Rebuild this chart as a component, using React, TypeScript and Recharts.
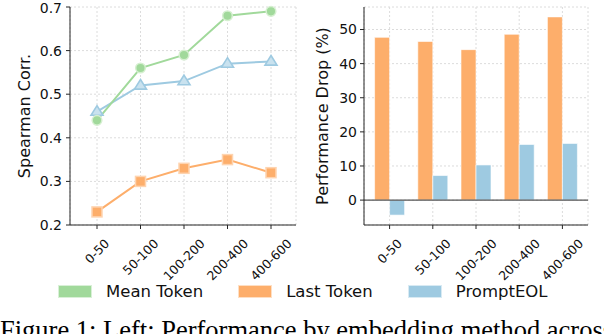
import { Bar, BarChart, CartesianGrid, Line, LineChart, ReferenceLine, XAxis, YAxis } from "recharts"

const ranges = ["0-50", "50-100", "100-200", "200-400", "400-600"]
const meanTokenCorr = [0.44, 0.56, 0.59, 0.68, 0.69]
const lastTokenCorr = [0.23, 0.3, 0.33, 0.35, 0.32]
const promptEolCorr = [0.46, 0.52, 0.53, 0.57, 0.575]
const lastTokenDrop = [47.7, 46.5, 44.1, 48.6, 53.7]
const promptEolDrop = [-4.4, 7.2, 10.3, 16.3, 16.6]
const corrTicks = [0.2, 0.3, 0.4, 0.5, 0.6, 0.7]
const dropTicks = [0, 10, 20, 30, 40, 50]
const seriesNames = ["Mean Token", "Last Token", "PromptEOL"]

const GREEN = "#a1d99b"
const ORANGE = "#fdae6b"
const BLUE = "#9ecae1"
const seriesColors = [GREEN, ORANGE, BLUE]
const FRAME = "#262626"
const GRID = "#dcdcdc"
const FONT = "DejaVu Sans, sans-serif"

const corrData = ranges.map((range, i) => ({
  range,
  mean: meanTokenCorr[i],
  last: lastTokenCorr[i],
  prompt: promptEolCorr[i],
}))

const dropData = ranges.map((range, i) => ({
  range,
  last: lastTokenDrop[i],
  prompt: promptEolDrop[i],
}))

const X_TICK_SIZE = 12.5

// rough DejaVu Sans advance widths, so the rotated label's box can be centred on its tick
function labelLength(s: string) {
  let em = 0
  for (const ch of s) em += ch === "-" ? 0.361 : 0.636
  return em * X_TICK_SIZE
}

function RotatedTick({ x, y, payload }: any) {
  const text = String(payload.value)
  const half = (labelLength(text) + 0.73 * X_TICK_SIZE) / (2 * Math.SQRT2)
  return (
    <g transform={`translate(${x},${y + 7 + half})`}>
      <text
        x={0}
        y={0.36 * X_TICK_SIZE}
        textAnchor="middle"
        transform="rotate(-45)"
        fontSize={X_TICK_SIZE}
        fill="#111"
        fontFamily={FONT}
      >
        {text}
      </text>
    </g>
  )
}

function CircleDot({ cx, cy, index }: any) {
  return <circle key={`c${index}`} cx={cx} cy={cy} r={4.8} fill={GREEN} stroke="#d5efd0" strokeWidth={1.5} />
}

function SquareDot({ cx, cy, index }: any) {
  return (
    <rect key={`s${index}`} x={cx - 5} y={cy - 5} width={10} height={10} fill={ORANGE} stroke="#fed4b0" strokeWidth={1.5} />
  )
}

function TriangleDot({ cx, cy, index }: any) {
  const s = 6
  return (
    <path
      key={`t${index}`}
      d={`M${cx},${cy - s} L${cx + s},${cy + s * 0.6} L${cx - s},${cy + s * 0.6} Z`}
      fill="#c9e2ef"
      stroke={BLUE}
      strokeWidth={1.6}
    />
  )
}

function yLabel(text: string, baseline: number) {
  return ({ viewBox }: any) => {
    const x = viewBox.x + baseline
    const y = viewBox.y + viewBox.height / 2
    return (
      <text x={x} y={y} transform={`rotate(-90 ${x} ${y})`} textAnchor="middle" fontSize={16} fill="#111" fontFamily={FONT}>
        {text}
      </text>
    )
  }
}

const tickStyle = { fontSize: 14, fill: "#111", fontFamily: FONT }

function CorrChart() {
  return (
    <LineChart width={300} height={300} data={corrData} margin={{ top: 7, right: 4, left: 0, bottom: 0 }}>
      <CartesianGrid stroke={GRID} strokeDasharray="2 2" />
      <XAxis
        dataKey="range"
        padding={{ left: 27, right: 25 }}
        height={75}
        tickSize={4}
        tick={<RotatedTick />}
        tickLine={{ stroke: FRAME }}
        axisLine={{ stroke: FRAME }}
        interval={0}
      />
      <XAxis xAxisId="top" orientation="top" dataKey="range" height={0} tick={false} tickLine={false} axisLine={{ stroke: FRAME, strokeWidth: 1.3 }} />
      <YAxis
        domain={[0.2, 0.7]}
        ticks={corrTicks}
        tickFormatter={(v: number) => v.toFixed(1)}
        width={70}
        tickSize={4}
        tickMargin={4}
        tick={tickStyle}
        tickLine={{ stroke: FRAME }}
        axisLine={{ stroke: FRAME }}
        label={{ content: yLabel("Spearman Corr.", 29.5) }}
      />
      <YAxis yAxisId="right" orientation="right" width={0} tick={false} tickLine={false} axisLine={{ stroke: FRAME }} />
      <Line dataKey="prompt" stroke={BLUE} strokeWidth={2} dot={<TriangleDot />} isAnimationActive={false} />
      <Line dataKey="last" stroke={ORANGE} strokeWidth={2} dot={<SquareDot />} isAnimationActive={false} />
      <Line dataKey="mean" stroke={GREEN} strokeWidth={2} dot={<CircleDot />} isAnimationActive={false} />
    </LineChart>
  )
}

function DropChart() {
  return (
    <BarChart
      width={304}
      height={300}
      data={dropData}
      margin={{ top: 7, right: 16, left: 0, bottom: 0 }}
      barCategoryGap={6.6}
      barGap={0}
    >
      <CartesianGrid stroke={GRID} strokeDasharray="2 2" />
      <XAxis
        dataKey="range"
        padding={{ left: 4, right: 4 }}
        height={75}
        tickSize={4}
        tick={<RotatedTick />}
        tickLine={{ stroke: FRAME }}
        axisLine={{ stroke: FRAME }}
        interval={0}
      />
      <XAxis xAxisId="top" orientation="top" dataKey="range" height={0} tick={false} tickLine={false} axisLine={{ stroke: FRAME, strokeWidth: 1.3 }} />
      <YAxis
        domain={[-7.3, 56.6]}
        ticks={dropTicks}
        allowDataOverflow
        width={64}
        tickSize={4}
        tickMargin={3}
        tick={tickStyle}
        tickLine={{ stroke: FRAME }}
        axisLine={{ stroke: FRAME }}
        label={{ content: yLabel("Performance Drop (%)", 27.5) }}
      />
      <YAxis yAxisId="right" orientation="right" width={0} tick={false} tickLine={false} axisLine={{ stroke: FRAME }} />
      <Bar dataKey="last" fill={ORANGE} stroke="#fff" strokeWidth={0.6} isAnimationActive={false} />
      <Bar dataKey="prompt" fill={BLUE} stroke="#fff" strokeWidth={0.6} isAnimationActive={false} />
      <ReferenceLine y={0} stroke="#555" strokeWidth={1.2} />
    </BarChart>
  )
}

export default function App() {
  return (
    <div
      style={{
        position: "absolute",
        left: 0,
        top: 0,
        width: 604,
        height: 334,
        overflow: "hidden",
        background: "#fff",
        fontFamily: FONT,
      }}
    >
      <div style={{ position: "absolute", left: 0, top: 0 }}>
        <CorrChart />
      </div>
      <div style={{ position: "absolute", left: 300, top: 0 }}>
        <DropChart />
      </div>
      <div
        style={{
          position: "absolute",
          left: 58,
          top: 283,
          display: "flex",
          alignItems: "center",
          gap: 35,
          fontSize: 16.5,
          color: "#111",
          lineHeight: "17px",
        }}
      >
        {seriesNames.map((name, i) => (
          <div key={name} style={{ display: "flex", alignItems: "center" }}>
            <span
              style={{
                display: "inline-block",
                width: 34,
                height: 13,
                background: seriesColors[i],
                marginRight: 14,
                boxSizing: "border-box",
                border: "1px solid rgba(255,255,255,0.6)",
              }}
            />
            <span>{name}</span>
          </div>
        ))}
      </div>
      <svg width={604} height={334} style={{ position: "absolute", left: 0, top: 0, pointerEvents: "none" }}>
        <text x={0} y={339} fontSize={26.5} fontFamily="Liberation Serif, serif" fill="#000">
          Figure 1: Left: Performance by embedding method across
        </text>
      </svg>
    </div>
  )
}
